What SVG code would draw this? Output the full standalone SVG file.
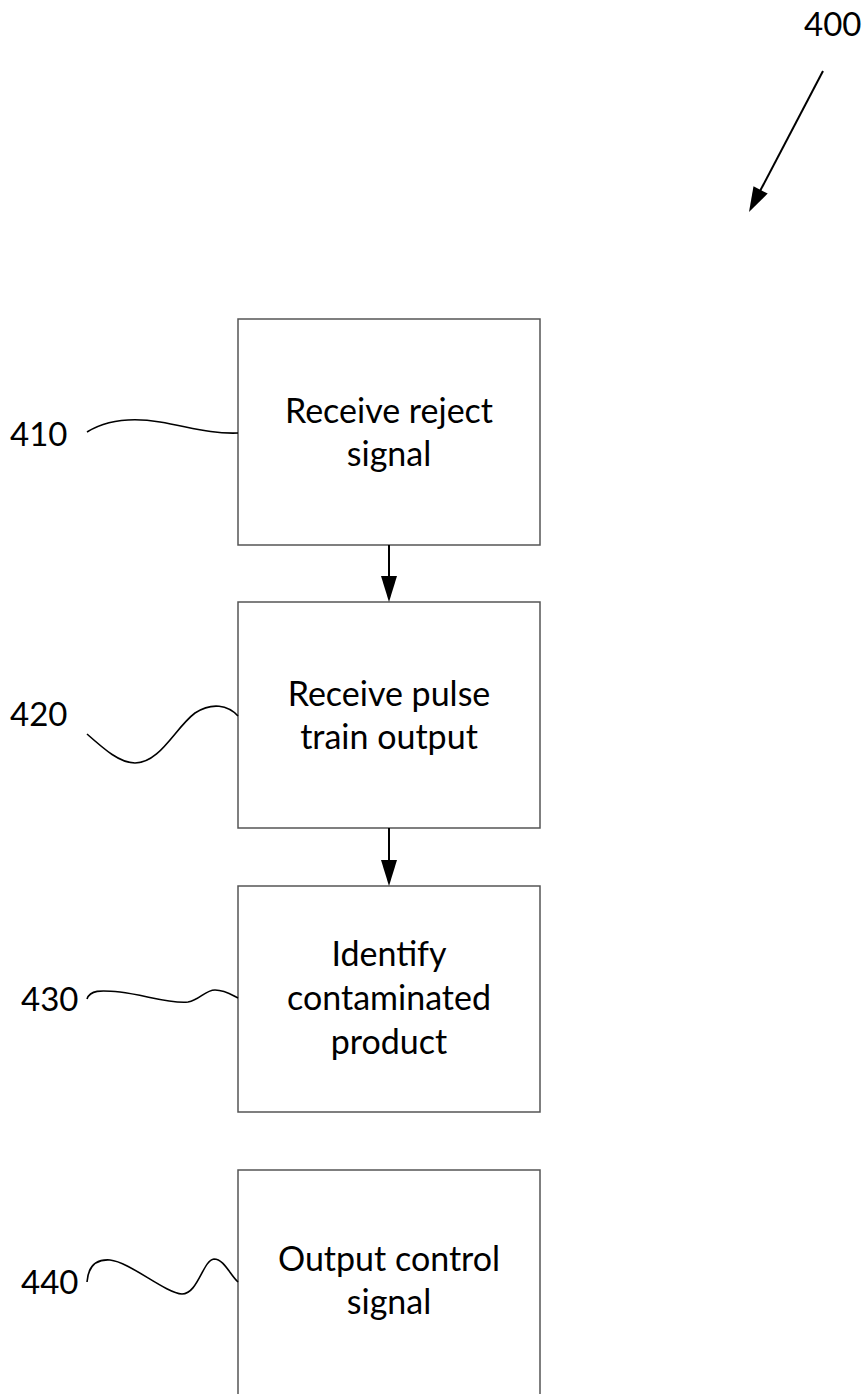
<svg xmlns="http://www.w3.org/2000/svg" width="868" height="1394" viewBox="0 0 868 1394">
<style>
.box{fill:#fff;stroke:#555;stroke-width:1.5}
.t{font-family:Lato,"Open Sans","Liberation Sans",sans-serif;font-size:34px;fill:#000;text-anchor:middle}
.l{font-family:Lato,"Open Sans","Liberation Sans",sans-serif;font-size:33px;fill:#000}
.w{fill:none;stroke:#000;stroke-width:1.6}
.a{stroke:#000;stroke-width:2;fill:none}
.h{fill:#000}
</style>
<rect width="868" height="1394" fill="#fff"/>
<g id="ref400">
<text class="l" x="804" y="36">400</text>
<line class="a" x1="823" y1="71" x2="759" y2="193"/>
<polygon class="h" points="749,212 767.7,193.6 753.5,186.2"/>
</g>
<g id="n410">
<rect class="box" x="238" y="319" width="302" height="226"/>
<text class="t" x="389" y="423">Receive reject</text>
<text class="t" x="389" y="466">signal</text>
</g>
<g id="n420">
<rect class="box" x="238" y="602" width="302" height="226"/>
<text class="t" x="389" y="706">Receive pulse</text>
<text class="t" x="389" y="749">train output</text>
</g>
<g id="n430">
<rect class="box" x="238" y="886" width="302" height="226"/>
<text class="t" x="389" y="966">Identify</text>
<text class="t" x="389" y="1010">contaminated</text>
<text class="t" x="389" y="1054">product</text>
</g>
<g id="n440">
<path class="box" d="M238,1400 V1170 H540 V1400"/>
<text class="t" x="389" y="1271">Output control</text>
<text class="t" x="389" y="1314">signal</text>
</g>
<g id="labels">
<text class="l" x="10" y="446">410</text>
<path class="w" d="M87,432 C105,421 130,417 160,422 C190,427 210,434 238,433"/>
<text class="l" x="10" y="726">420</text>
<path class="w" d="M87,734 C105,750 120,763 135,763 C160,763 175,728 195,713 C212,702 228,705 238,716"/>
<text class="l" x="21" y="1011">430</text>
<path class="w" d="M87,999 C90,990 100,990 120,992 C145,995 170,1004 188,1002 C200,1000 205,990 215,990 C225,990 232,995 238,998"/>
<text class="l" x="21" y="1294">440</text>
<path class="w" d="M87,1282 C88,1268 95,1259 110,1260 C130,1262 165,1293 182,1294 C198,1294 203,1260 214,1259 C224,1259 230,1275 238,1282"/>
</g>
<g id="connectors">
<line class="a" x1="389" y1="545" x2="389" y2="577"/>
<polygon class="h" points="381,576 397,576 389,602"/>
<line class="a" x1="389" y1="828" x2="389" y2="861"/>
<polygon class="h" points="381,860 397,860 389,886"/>
</g>
</svg>
